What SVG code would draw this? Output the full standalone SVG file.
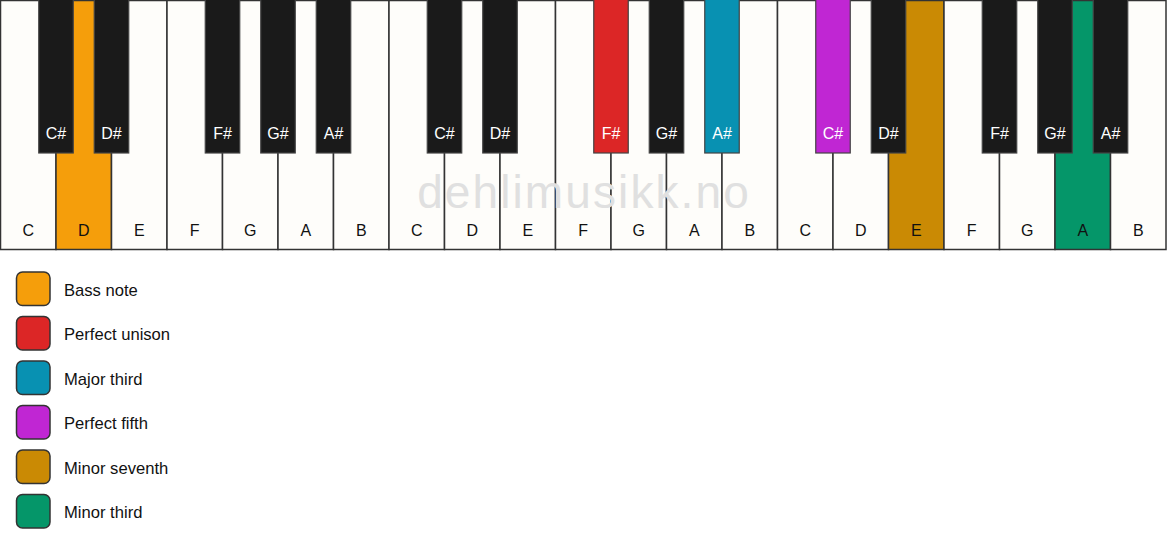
<svg xmlns="http://www.w3.org/2000/svg" width="1167" height="550" viewBox="0 0 1167 550">
<style>
.w{fill:#FEFDFA;stroke:#333;stroke-width:1.5}
.b{fill:#1A1A1A;stroke:#444;stroke-width:1.2}
.lw{font-family:"Liberation Sans",Arial,sans-serif;font-size:16px;fill:#111;text-anchor:middle}
.lb{font-family:"Liberation Sans",Arial,sans-serif;font-size:16px;fill:#fff;text-anchor:middle}
.lg{font-family:"Liberation Sans",Arial,sans-serif;font-size:16.6px;fill:#111}
.sq{stroke:#333;stroke-width:1.5}
.wm{font-family:"Liberation Sans",Arial,sans-serif;font-size:46px;fill:#E0E0E0;text-anchor:middle;letter-spacing:2.1px}
</style>
<rect width="1167" height="550" fill="#fff"/>
<g id="white-keys">
<rect class="w" x="0.5" y="0.5" width="55.5" height="249"/>
<rect class="w" x="56" y="0.5" width="55.5" height="249" style="fill:#F59E0B"/>
<rect class="w" x="111.5" y="0.5" width="55.5" height="249"/>
<rect class="w" x="167" y="0.5" width="55.5" height="249"/>
<rect class="w" x="222.5" y="0.5" width="55.5" height="249"/>
<rect class="w" x="278" y="0.5" width="55.5" height="249"/>
<rect class="w" x="333.5" y="0.5" width="55.5" height="249"/>
<rect class="w" x="389" y="0.5" width="55.5" height="249"/>
<rect class="w" x="444.5" y="0.5" width="55.5" height="249"/>
<rect class="w" x="500" y="0.5" width="55.5" height="249"/>
<rect class="w" x="555.5" y="0.5" width="55.5" height="249"/>
<rect class="w" x="611" y="0.5" width="55.5" height="249"/>
<rect class="w" x="666.5" y="0.5" width="55.5" height="249"/>
<rect class="w" x="722" y="0.5" width="55.5" height="249"/>
<rect class="w" x="777.5" y="0.5" width="55.5" height="249"/>
<rect class="w" x="833" y="0.5" width="55.5" height="249"/>
<rect class="w" x="888.5" y="0.5" width="55.5" height="249" style="fill:#CA8A04"/>
<rect class="w" x="944" y="0.5" width="55.5" height="249"/>
<rect class="w" x="999.5" y="0.5" width="55.5" height="249"/>
<rect class="w" x="1055" y="0.5" width="55.5" height="249" style="fill:#059669"/>
<rect class="w" x="1110.5" y="0.5" width="55.5" height="249"/>
</g>
<text class="wm" x="584" y="208">dehlimusikk.no</text>
<g id="white-labels">
<text class="lw" x="28.25" y="236">C</text>
<text class="lw" x="83.75" y="236">D</text>
<text class="lw" x="139.25" y="236">E</text>
<text class="lw" x="194.75" y="236">F</text>
<text class="lw" x="250.25" y="236">G</text>
<text class="lw" x="305.75" y="236">A</text>
<text class="lw" x="361.25" y="236">B</text>
<text class="lw" x="416.75" y="236">C</text>
<text class="lw" x="472.25" y="236">D</text>
<text class="lw" x="527.75" y="236">E</text>
<text class="lw" x="583.25" y="236">F</text>
<text class="lw" x="638.75" y="236">G</text>
<text class="lw" x="694.25" y="236">A</text>
<text class="lw" x="749.75" y="236">B</text>
<text class="lw" x="805.25" y="236">C</text>
<text class="lw" x="860.75" y="236">D</text>
<text class="lw" x="916.25" y="236">E</text>
<text class="lw" x="971.75" y="236">F</text>
<text class="lw" x="1027.25" y="236">G</text>
<text class="lw" x="1082.75" y="236">A</text>
<text class="lw" x="1138.25" y="236">B</text>
</g>
<g id="black-keys">
<rect class="b" x="38.75" y="-1" width="34.5" height="154"/>
<rect class="b" x="94.25" y="-1" width="34.5" height="154"/>
<rect class="b" x="205.25" y="-1" width="34.5" height="154"/>
<rect class="b" x="260.75" y="-1" width="34.5" height="154"/>
<rect class="b" x="316.25" y="-1" width="34.5" height="154"/>
<rect class="b" x="427.25" y="-1" width="34.5" height="154"/>
<rect class="b" x="482.75" y="-1" width="34.5" height="154"/>
<rect class="b" x="593.75" y="-1" width="34.5" height="154" style="fill:#DC2626"/>
<rect class="b" x="649.25" y="-1" width="34.5" height="154"/>
<rect class="b" x="704.75" y="-1" width="34.5" height="154" style="fill:#0891B2"/>
<rect class="b" x="815.75" y="-1" width="34.5" height="154" style="fill:#C026D3"/>
<rect class="b" x="871.25" y="-1" width="34.5" height="154"/>
<rect class="b" x="982.25" y="-1" width="34.5" height="154"/>
<rect class="b" x="1037.75" y="-1" width="34.5" height="154"/>
<rect class="b" x="1093.25" y="-1" width="34.5" height="154"/>
</g>
<g id="black-labels">
<text class="lb" x="56" y="139">C#</text>
<text class="lb" x="111.5" y="139">D#</text>
<text class="lb" x="222.5" y="139">F#</text>
<text class="lb" x="278" y="139">G#</text>
<text class="lb" x="333.5" y="139">A#</text>
<text class="lb" x="444.5" y="139">C#</text>
<text class="lb" x="500" y="139">D#</text>
<text class="lb" x="611" y="139">F#</text>
<text class="lb" x="666.5" y="139">G#</text>
<text class="lb" x="722" y="139">A#</text>
<text class="lb" x="833" y="139">C#</text>
<text class="lb" x="888.5" y="139">D#</text>
<text class="lb" x="999.5" y="139">F#</text>
<text class="lb" x="1055" y="139">G#</text>
<text class="lb" x="1110.5" y="139">A#</text>
</g>
<g id="connectors"></g>
<g id="legend">
<g id="legend-bass"><rect class="sq" x="16.5" y="272" width="33.5" height="33.5" rx="6" fill="#F59E0B"/><text class="lg" x="64" y="295.5">Bass note</text></g>
<g id="legend-unison"><rect class="sq" x="16.5" y="316.5" width="33.5" height="33.5" rx="6" fill="#DC2626"/><text class="lg" x="64" y="340">Perfect unison</text></g>
<g id="legend-major3"><rect class="sq" x="16.5" y="361" width="33.5" height="33.5" rx="6" fill="#0891B2"/><text class="lg" x="64" y="384.5">Major third</text></g>
<g id="legend-fifth"><rect class="sq" x="16.5" y="405.5" width="33.5" height="33.5" rx="6" fill="#C026D3"/><text class="lg" x="64" y="429">Perfect fifth</text></g>
<g id="legend-min7"><rect class="sq" x="16.5" y="450" width="33.5" height="33.5" rx="6" fill="#CA8A04"/><text class="lg" x="64" y="473.5">Minor seventh</text></g>
<g id="legend-min3"><rect class="sq" x="16.5" y="494.5" width="33.5" height="33.5" rx="6" fill="#059669"/><text class="lg" x="64" y="518">Minor third</text></g>
</g>
</svg>
